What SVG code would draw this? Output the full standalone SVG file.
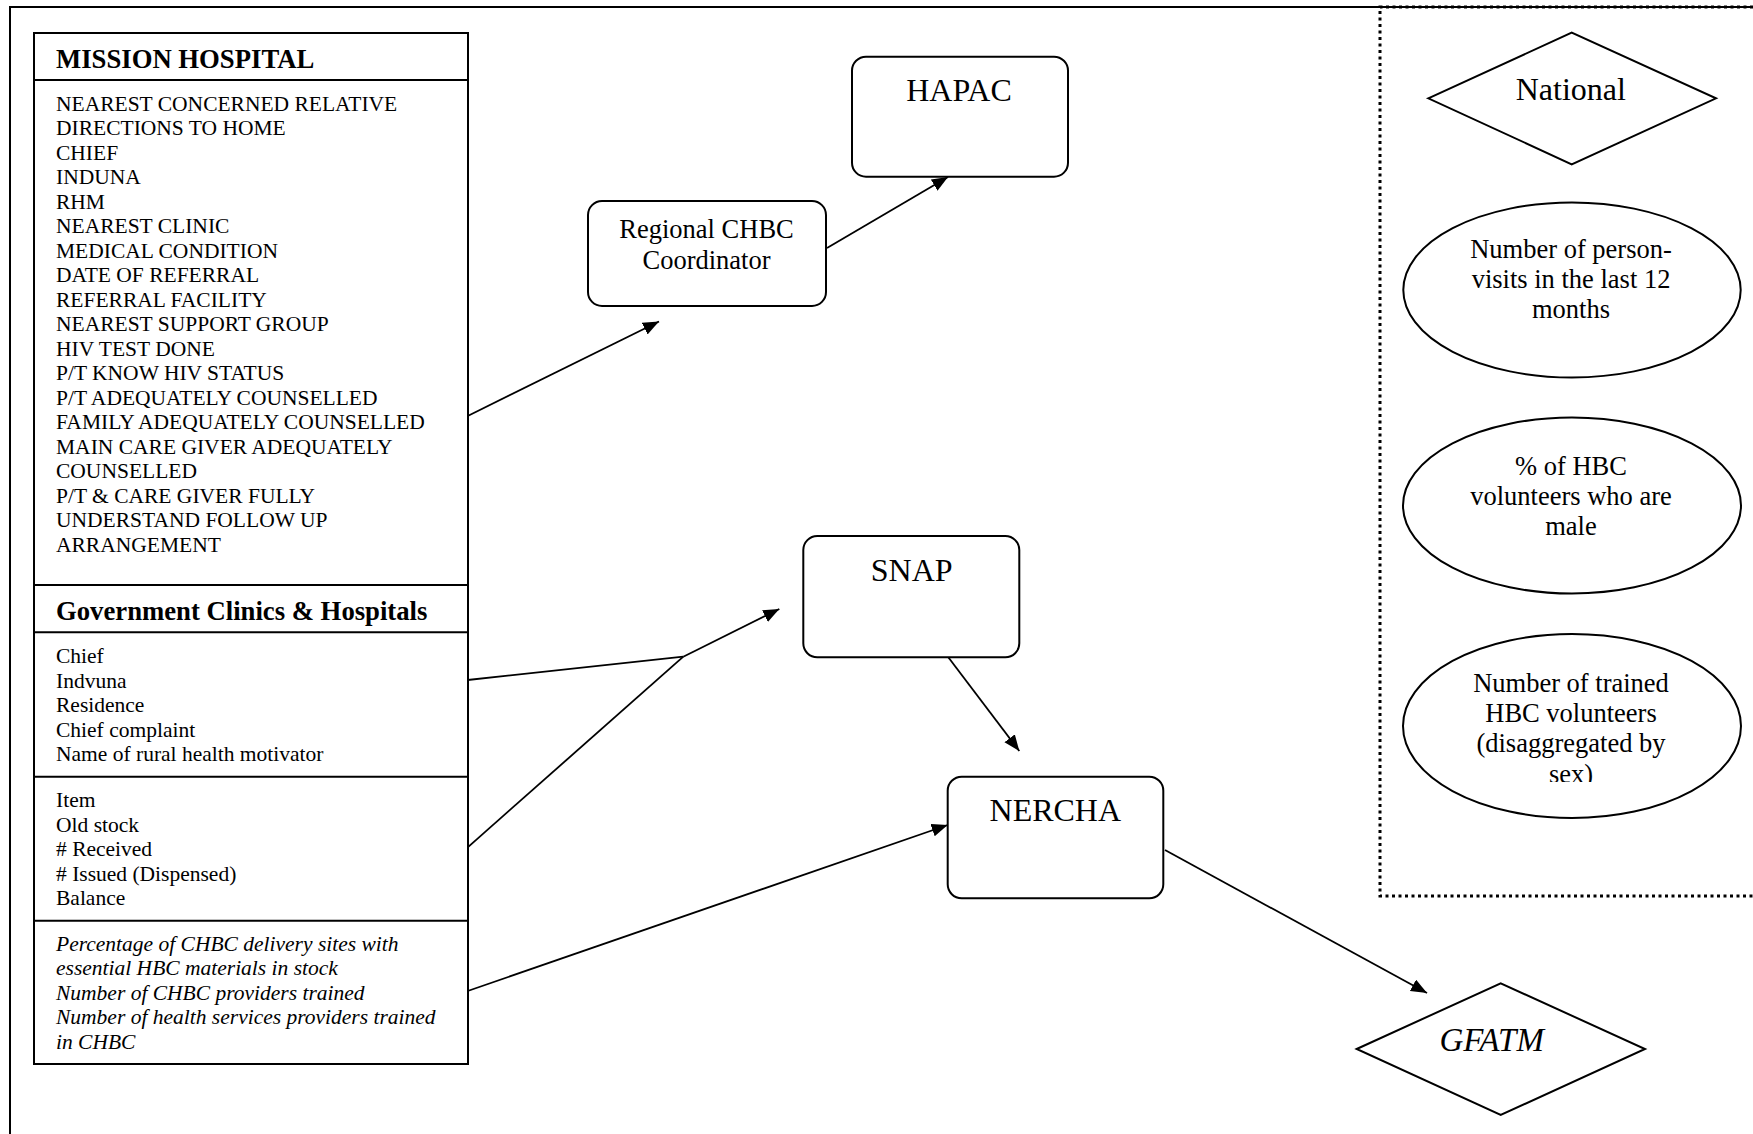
<svg xmlns="http://www.w3.org/2000/svg" width="1753" height="1134" viewBox="0 0 1753 1134">
<style>
  .frame { fill: none; stroke: #000; stroke-width: 2; }
  .dotted { fill: none; stroke: #000; stroke-width: 3; stroke-dasharray: 3 3.5; }
  .box { fill: #fff; stroke: #000; stroke-width: 2; }
  .sep { stroke: #000; stroke-width: 2; }
  .node { fill: #fff; stroke: #000; stroke-width: 2; }
  .conn { fill: none; stroke: #000; stroke-width: 1.8; }
  .t { font-family: "Liberation Serif", "Times New Roman", serif; fill: #000; }
  .body { font-size: 21.5px; }
  .head { font-size: 26.7px; font-weight: bold; }
  .it { font-style: italic; }
  .big { font-size: 32px; text-anchor: middle; }
  .mid { font-size: 26.5px; text-anchor: middle; }
  .ell { font-size: 26.5px; text-anchor: middle; }
</style>
<defs>
  <marker id="arrow" markerUnits="userSpaceOnUse" markerWidth="17" markerHeight="14" refX="16" refY="6.5" orient="auto">
    <path d="M0,0 L16,6.5 L0,13 z" fill="#000"/>
  </marker>
  <clipPath id="clip3">
    <rect x="1400" y="640" width="340" height="142"/>
  </clipPath>
</defs>

<rect width="1753" height="1134" fill="#fff"/>

<g id="frame">
  <path class="frame" d="M10,1134 V7 H1753"/>
</g>

<g id="national-panel">
  <path class="dotted" d="M1753,7 H1380 V896 H1753"/>
</g>

<g id="left-table">
  <rect class="box" x="34" y="33" width="434" height="1031"/>
  <line class="sep" x1="34" y1="80" x2="468" y2="80"/>
  <line class="sep" x1="34" y1="585" x2="468" y2="585"/>
  <line class="sep" x1="34" y1="632.3" x2="468" y2="632.3"/>
  <line class="sep" x1="34" y1="776.7" x2="468" y2="776.7"/>
  <line class="sep" x1="34" y1="920.7" x2="468" y2="920.7"/>

  <g id="mission-hospital">
    <text class="t head" x="56" y="68">MISSION HOSPITAL</text>
    <text class="t body" x="56" y="110.7">NEAREST CONCERNED RELATIVE</text>
    <text class="t body" x="56" y="135.2">DIRECTIONS TO HOME</text>
    <text class="t body" x="56" y="159.7">CHIEF</text>
    <text class="t body" x="56" y="184.2">INDUNA</text>
    <text class="t body" x="56" y="208.7">RHM</text>
    <text class="t body" x="56" y="233.2">NEAREST CLINIC</text>
    <text class="t body" x="56" y="257.7">MEDICAL CONDITION</text>
    <text class="t body" x="56" y="282.2">DATE OF REFERRAL</text>
    <text class="t body" x="56" y="306.7">REFERRAL FACILITY</text>
    <text class="t body" x="56" y="331.2">NEAREST SUPPORT GROUP</text>
    <text class="t body" x="56" y="355.7">HIV TEST DONE</text>
    <text class="t body" x="56" y="380.2">P/T KNOW HIV STATUS</text>
    <text class="t body" x="56" y="404.7">P/T ADEQUATELY COUNSELLED</text>
    <text class="t body" x="56" y="429.2">FAMILY ADEQUATELY COUNSELLED</text>
    <text class="t body" x="56" y="453.7">MAIN CARE GIVER ADEQUATELY</text>
    <text class="t body" x="56" y="478.2">COUNSELLED</text>
    <text class="t body" x="56" y="502.7">P/T &amp; CARE GIVER FULLY</text>
    <text class="t body" x="56" y="527.2">UNDERSTAND FOLLOW UP</text>
    <text class="t body" x="56" y="551.7">ARRANGEMENT</text>
  </g>

  <g id="gov-clinics">
    <text class="t head" x="56" y="620">Government Clinics &amp; Hospitals</text>
    <text class="t body" x="56" y="663.3">Chief</text>
    <text class="t body" x="56" y="687.8">Indvuna</text>
    <text class="t body" x="56" y="712.3">Residence</text>
    <text class="t body" x="56" y="736.8">Chief complaint</text>
    <text class="t body" x="56" y="761.3">Name of rural health motivator</text>
  </g>

  <g id="stock">
    <text class="t body" x="56" y="807.3">Item</text>
    <text class="t body" x="56" y="831.8">Old stock</text>
    <text class="t body" x="56" y="856.3"># Received</text>
    <text class="t body" x="56" y="880.8"># Issued (Dispensed)</text>
    <text class="t body" x="56" y="905.3">Balance</text>
  </g>

  <g id="indicators">
    <text class="t body it" x="56" y="950.7">Percentage of CHBC delivery sites with</text>
    <text class="t body it" x="56" y="975.2">essential HBC materials in stock</text>
    <text class="t body it" x="56" y="999.7">Number of CHBC providers trained</text>
    <text class="t body it" x="56" y="1024.2">Number of health services providers trained</text>
    <text class="t body it" x="56" y="1048.7">in CHBC</text>
  </g>
</g>

<g id="connectors">
  <line class="conn" x1="467.7" y1="416" x2="659" y2="321.5" marker-end="url(#arrow)"/>
  <line class="conn" x1="827" y1="248" x2="948" y2="177" marker-end="url(#arrow)"/>
  <polyline class="conn" points="467.7,680 683.3,656.7"/>
  <polyline class="conn" points="467.7,847.3 683.3,656.7"/>
  <line class="conn" x1="683.3" y1="656.7" x2="779.3" y2="609" marker-end="url(#arrow)"/>
  <line class="conn" x1="948.3" y1="657.3" x2="1019.3" y2="751" marker-end="url(#arrow)"/>
  <line class="conn" x1="467.7" y1="991" x2="947.7" y2="825" marker-end="url(#arrow)"/>
  <line class="conn" x1="1165" y1="850" x2="1427" y2="993" marker-end="url(#arrow)"/>
</g>

<g id="hapac">
  <rect class="node" x="852" y="56.7" width="216" height="120" rx="14" ry="14"/>
  <text class="t big" x="959" y="101">HAPAC</text>
</g>

<g id="regional">
  <rect class="node" x="588" y="201" width="238" height="105" rx="14" ry="14"/>
  <text class="t mid" x="706.5" y="238.3">Regional CHBC</text>
  <text class="t mid" x="706.5" y="269.3">Coordinator</text>
</g>

<g id="snap">
  <rect class="node" x="803.3" y="536" width="216" height="121.3" rx="14" ry="14"/>
  <text class="t big" x="911.7" y="581">SNAP</text>
</g>

<g id="nercha">
  <rect class="node" x="947.7" y="776.7" width="215.6" height="121.6" rx="14" ry="14"/>
  <text class="t big" x="1055.3" y="821">NERCHA</text>
</g>

<g id="gfatm">
  <polygon class="node" points="1356.7,1049 1500.7,983.3 1645,1049 1500.7,1115"/>
  <text class="t big it" x="1491.7" y="1051" style="font-size:33px">GFATM</text>
</g>

<g id="national">
  <polygon class="node" points="1428.3,98.3 1571.7,32.7 1716,98.3 1571.7,164.3"/>
  <text class="t big" x="1570.8" y="100">National</text>
</g>

<g id="person-visits">
  <ellipse class="node" cx="1572" cy="290" rx="168.7" ry="87.5"/>
  <text class="t ell" x="1571" y="258.3">Number of person-</text>
  <text class="t ell" x="1571" y="288.3">visits in the last 12</text>
  <text class="t ell" x="1571" y="318.3">months</text>
</g>

<g id="male-volunteers">
  <ellipse class="node" cx="1572" cy="505.5" rx="169" ry="88"/>
  <text class="t ell" x="1571" y="475">% of HBC</text>
  <text class="t ell" x="1571" y="505">volunteers who are</text>
  <text class="t ell" x="1571" y="535">male</text>
</g>

<g id="trained-volunteers">
  <ellipse class="node" cx="1572" cy="726" rx="169" ry="92"/>
  <g clip-path="url(#clip3)">
    <text class="t ell" x="1571" y="692">Number of trained</text>
    <text class="t ell" x="1571" y="722">HBC volunteers</text>
    <text class="t ell" x="1571" y="752">(disaggregated by</text>
    <text class="t ell" x="1571" y="783">sex)</text>
  </g>
</g>
</svg>
